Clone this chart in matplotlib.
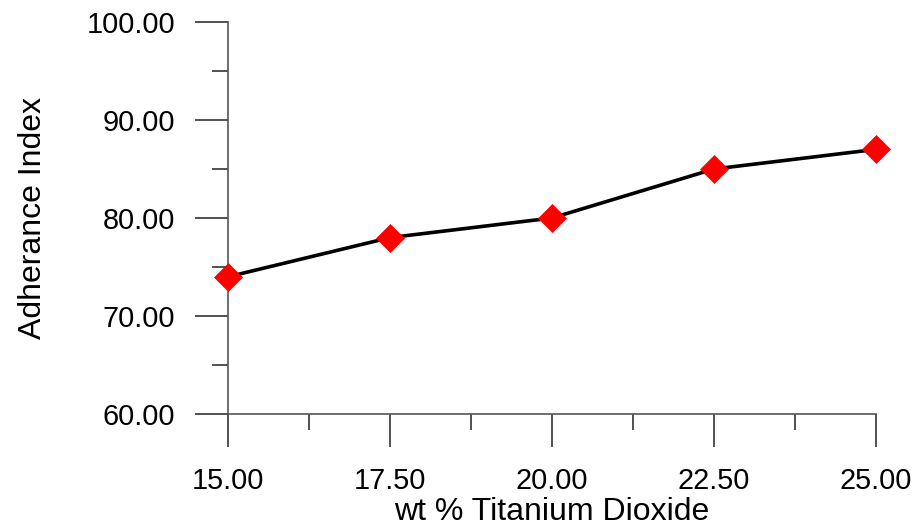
import matplotlib
matplotlib.use("Agg")
import matplotlib.pyplot as plt
from matplotlib.ticker import MultipleLocator, FormatStrFormatter

plt.rcParams['font.family'] = ['Liberation Sans', 'DejaVu Sans']

tio2_wt = [15.0, 17.5, 20.0, 22.5, 25.0]
adherence = [74.0, 78.0, 80.0, 85.0, 87.0]

fig = plt.figure(figsize=(9.15, 5.31), dpi=100)
ax = fig.add_axes([228/915, 1-414/531, (876-228)/915, (414-22)/531])

ax.plot(tio2_wt, adherence, color='black', lw=2.6, marker='D', ms=14,
        mfc='red', mec='red', mew=0.5, clip_on=False, zorder=3)

ax.set_xlim(15, 25)
ax.set_ylim(60, 100)
ax.xaxis.set_major_locator(MultipleLocator(2.5))
ax.xaxis.set_minor_locator(MultipleLocator(1.25))
ax.yaxis.set_major_locator(MultipleLocator(10))
ax.yaxis.set_minor_locator(MultipleLocator(5))
ax.xaxis.set_major_formatter(FormatStrFormatter('%.2f'))
ax.yaxis.set_major_formatter(FormatStrFormatter('%.2f'))

for s in ['top', 'right']:
    ax.spines[s].set_visible(False)
for s in ['left', 'bottom']:
    ax.spines[s].set_color('#555555')
    ax.spines[s].set_linewidth(1.2)

ax.tick_params(which='major', direction='out', length=24, width=1.2,
               color='#333333', labelsize=20.8)
ax.tick_params(which='minor', direction='out', length=11.5, width=1.2,
               color='#333333')
ax.tick_params(axis='x', which='major', pad=14.5)
ax.tick_params(axis='y', which='major', pad=14)

ax.set_xlabel('wt % Titanium Dioxide', fontsize=23, labelpad=1)
ax.set_ylabel('Adherance Index', fontsize=23, labelpad=28)

fig.savefig('out.png', dpi=100)
